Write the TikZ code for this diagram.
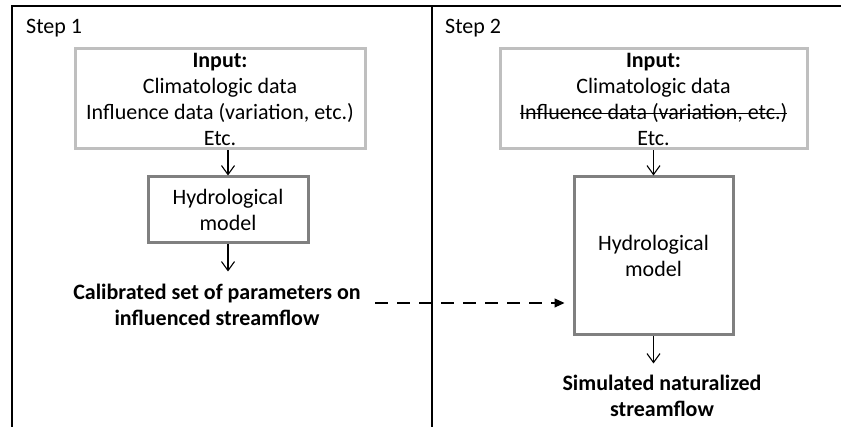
\documentclass[tikz,border=0pt]{standalone}
\usepackage{fontspec}
\setmainfont{Carlito}
\usetikzlibrary{arrows.meta}
\newcommand\strk[1]{\setbox0\hbox{#1}\rlap{\raisebox{0.24em}{\rule{\wd0}{1.2pt}}}\box0}
\begin{document}
\begin{tikzpicture}[x=1pt,y=-1pt,
  every node/.style={font=\fontsize{22}{26}\selectfont, align=center, inner sep=0pt},
  inbox/.style={draw=black!25, line width=3pt, minimum width=#1, minimum height=100pt},
  modbox/.style={draw=black!50, line width=3pt},
  frame/.style={line width=1.4pt, black},
  flow/.style={line width=1.1pt, -{Straight Barb[length=9pt,width=13pt,line width=1.1pt]}},
  link/.style={line width=1.1pt, dash pattern=on 13pt off 9pt, -{Triangle[length=10pt,width=9pt]}},
  label/.style={font=\fontsize{22}{26}\selectfont\bfseries}]
\useasboundingbox (0,0) rectangle (841,427);
\draw[frame] (12,427) -- (12,6) -- (841,6);
\draw[frame] (432,6) -- (432,427);
\node[anchor=west] (s1) at (26,28) {Step 1};
\node[anchor=west] (s2) at (445,28) {Step 2};
% step 1
\node[inbox=290pt] (in1) at (220,99) {\textbf{Input:}\\Climatologic data\\Influence data (variation, etc.)\\Etc.};
\node[modbox, minimum width=160pt, minimum height=66pt] (m1) at (228,210) {Hydrological\\model};
\node[label] (cal) at (217,305) {Calibrated set of parameters on\\influenced streamflow};
\draw[flow] (m1.north |- in1.south) -- (m1.north);
\draw[flow] (m1.south) -- ++(0,27);
% step 2
\node[inbox=307pt] (in2) at (653.5,99) {\textbf{Input:}\\Climatologic data\\\strk{Influence data (variation, etc.)}\\Etc.};
\node[modbox, minimum width=159pt, minimum height=158pt] (m2) at (653.5,256) {Hydrological\\model};
\node[label] (sim) at (662,396) {Simulated naturalized\\streamflow};
\draw[flow] (in2.south) -- (m2.north);
\draw[flow] (m2.south) -- ++(0,27);
\draw[link] (375,303) -- ([xshift=-8pt]m2.west |- 0,303);
\end{tikzpicture}
\end{document}
